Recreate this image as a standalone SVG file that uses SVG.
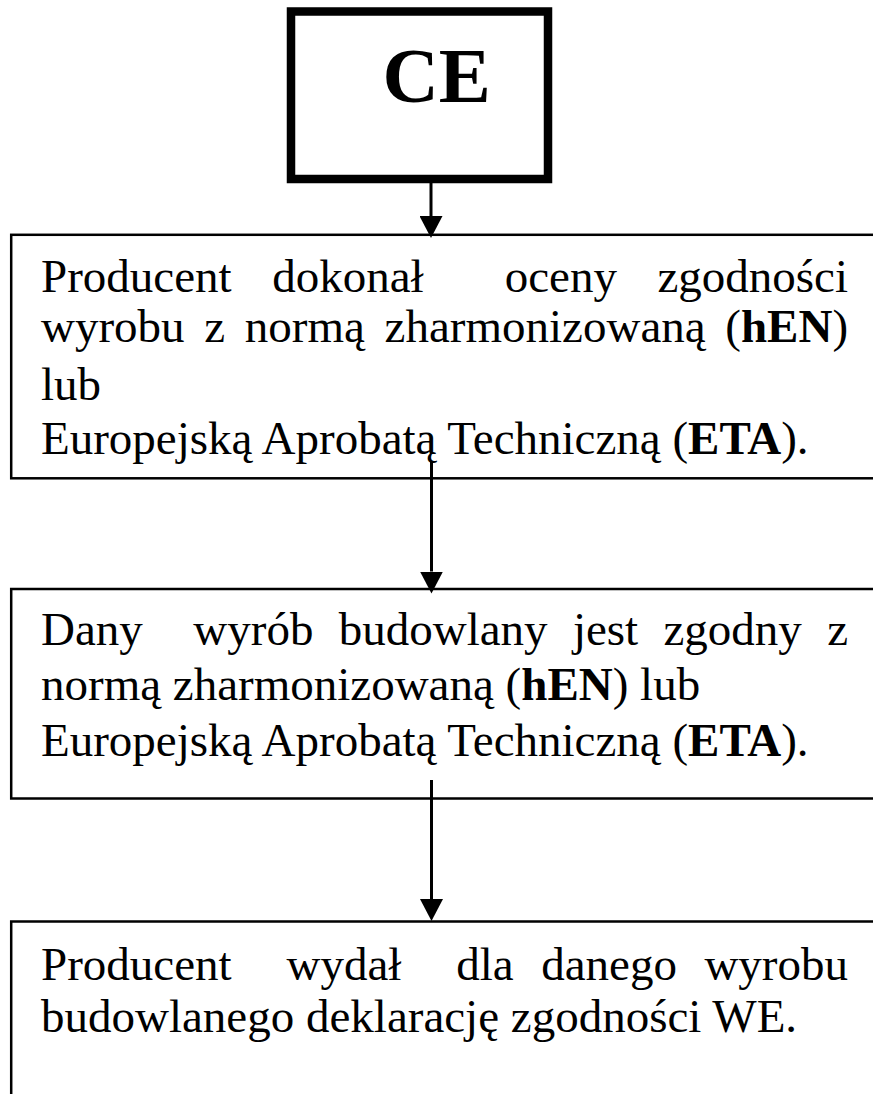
<svg xmlns="http://www.w3.org/2000/svg" width="873" height="1094" viewBox="0 0 873 1094">
<style>
.box{fill:#fff;stroke:#000;stroke-width:2.5}
.ce{fill:#fff;stroke:#000;stroke-width:8.5}
.t{font-family:"Liberation Serif","Times New Roman",serif;font-size:47px;fill:#000}
.b{font-weight:bold}
.conn{stroke:#000;stroke-width:3;fill:none}
</style>
<defs>
<marker id="ah" markerUnits="userSpaceOnUse" viewBox="0 0 22 23" refX="0" refY="11.5" markerWidth="22" markerHeight="23" orient="auto">
<path d="M0,0 L22,11.5 L0,23 Z" fill="#000"/>
</marker>
</defs>
<rect width="873" height="1094" fill="#fff"/>
<g id="node-ce">
<rect class="ce" x="291" y="11.5" width="257" height="167.5"/>
<text class="t b" x="382.5" y="102" style="font-size:78px">CE</text>
</g>
<g id="node-1">
<rect class="box" x="11.2" y="234.8" width="870" height="243.5"/>
<text class="t" y="292"><tspan x="41">Producent</tspan><tspan x="272.2">dokonał</tspan><tspan x="504.7">oceny</tspan><tspan x="657.4">zgodności</tspan></text>
<text class="t" y="342"><tspan x="41">wyrobu</tspan><tspan x="204.3">z</tspan><tspan x="244.8">normą</tspan><tspan x="384.6">zharmonizowaną</tspan><tspan x="725.3">(<tspan class="b">hEN</tspan>)</tspan></text>
<text class="t" x="41" y="400">lub</text>
<text class="t" x="41" y="454">Europejską Aprobatą Techniczną (<tspan class="b">ETA</tspan>).</text>
</g>
<g id="node-2">
<rect class="box" x="11.2" y="589" width="870" height="209.5"/>
<text class="t" y="645"><tspan x="41">Dany</tspan><tspan x="193.3">wyrób</tspan><tspan x="338.7">budowlany</tspan><tspan x="572.9">jest</tspan><tspan x="663.5">zgodny</tspan><tspan x="827.2">z</tspan></text>
<text class="t" x="41" y="700">normą zharmonizowaną (<tspan class="b">hEN</tspan>) lub</text>
<text class="t" x="41" y="756">Europejską Aprobatą Techniczną (<tspan class="b">ETA</tspan>).</text>
</g>
<g id="node-3">
<rect class="box" x="11.2" y="921.5" width="870" height="200"/>
<text class="t" y="980"><tspan x="41">Producent</tspan><tspan x="286.5">wydał</tspan><tspan x="456.3">dla</tspan><tspan x="541.2">danego</tspan><tspan x="704.4">wyrobu</tspan></text>
<text class="t" x="41" y="1032">budowlanego deklarację zgodności WE.</text>
</g>
<g id="connectors">
<line class="conn" x1="431" y1="183" x2="431" y2="216" marker-end="url(#ah)"/>
<line class="conn" x1="431.5" y1="461.5" x2="431.5" y2="571.5" marker-end="url(#ah)"/>
<line class="conn" x1="431.5" y1="780" x2="431.5" y2="899" marker-end="url(#ah)"/>
</g>
</svg>
